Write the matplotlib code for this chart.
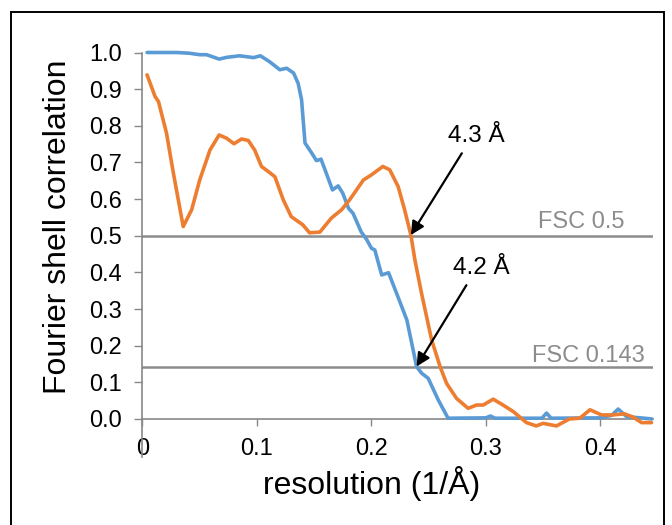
import matplotlib.pyplot as plt
import matplotlib.patches as mpatches
import matplotlib.lines as mlines

plt.rcParams['font.family'] = ['Liberation Sans', 'DejaVu Sans']

# FSC curves
blue_x = [0.004, 0.030, 0.041, 0.050, 0.056, 0.067, 0.074, 0.085, 0.097, 0.103,
          0.111, 0.120, 0.126, 0.132, 0.136, 0.139, 0.142, 0.148, 0.152, 0.156,
          0.159, 0.166, 0.171, 0.175, 0.180, 0.184, 0.191, 0.196, 0.200, 0.203,
          0.209, 0.215, 0.222, 0.231, 0.2395, 0.2438, 0.2496, 0.2584, 0.267, 0.300,
          0.304, 0.308, 0.335, 0.349, 0.353, 0.357, 0.400, 0.410, 0.4156, 0.423,
          0.435, 0.445]
blue_y = [1.000, 1.000, 0.998, 0.994, 0.994, 0.982, 0.987, 0.991, 0.986, 0.991,
          0.975, 0.953, 0.957, 0.944, 0.916, 0.871, 0.753, 0.725, 0.705, 0.709,
          0.684, 0.625, 0.636, 0.616, 0.575, 0.561, 0.511, 0.489, 0.466, 0.461,
          0.393, 0.399, 0.343, 0.270, 0.143, 0.125, 0.111, 0.052, 0.002, 0.003,
          0.008, 0.002, 0.002, 0.002, 0.016, 0.002, 0.003, 0.010, 0.027, 0.006,
          0.003, 0.000]

orange_x = [0.004, 0.011, 0.014, 0.021, 0.027, 0.0356, 0.043, 0.050, 0.059, 0.067,
            0.0735, 0.080, 0.0866, 0.0924, 0.098, 0.104, 0.110, 0.1157, 0.123, 0.130,
            0.140, 0.146, 0.155, 0.165, 0.174, 0.181, 0.193, 0.200, 0.210, 0.216,
            0.2234, 0.229, 0.2345, 0.238, 0.2438, 0.2526, 0.260, 0.2657, 0.2744, 0.2845,
            0.292, 0.2977, 0.3064, 0.315, 0.324, 0.3355, 0.344, 0.350, 0.3617, 0.373,
            0.382, 0.391, 0.401, 0.411, 0.421, 0.4287, 0.436, 0.4447]
orange_y = [0.939, 0.880, 0.866, 0.780, 0.671, 0.525, 0.571, 0.652, 0.734, 0.775,
            0.766, 0.751, 0.764, 0.760, 0.734, 0.689, 0.675, 0.661, 0.598, 0.552,
            0.530, 0.508, 0.510, 0.548, 0.571, 0.598, 0.652, 0.666, 0.689, 0.680,
            0.634, 0.571, 0.502, 0.434, 0.343, 0.216, 0.143, 0.097, 0.056, 0.029,
            0.038, 0.038, 0.054, 0.038, 0.020, -0.010, -0.019, -0.012, -0.019, 0.000,
            0.002, 0.025, 0.011, 0.011, 0.014, 0.005, -0.010, -0.010]

thresholds = [0.5, 0.143]
threshold_labels = ["FSC 0.5", "FSC 0.143"]
label_pos = [(0.421, 0.52), (0.439, 0.156)]

# annotations: text, text position, arrow tip
notes = [("4.3 Å", (0.292, 0.771), (0.2345, 0.502)),
         ("4.2 Å", (0.296, 0.411), (0.2395, 0.143))]

xticks = [0, 0.1, 0.2, 0.3, 0.4]
xticklabels = ["0", "0.1", "0.2", "0.3", "0.4"]
yticks = [0.0, 0.1, 0.2, 0.3, 0.4, 0.5, 0.6, 0.7, 0.8, 0.9, 1.0]

fig = plt.figure(figsize=(6.72, 5.25), dpi=100)
ax = fig.add_axes([0.212, 0.202, 0.759, 0.698])

axis_gray = "#888888"
for y in thresholds:
    ax.axhline(y, color="#8c8c8c", lw=1.8, zorder=1)
for txt, (tx, ty) in zip(threshold_labels, label_pos):
    ax.text(tx, ty, txt, ha="right", va="baseline", color="#8c8c8c", fontsize=17)

ax.plot(blue_x, blue_y, color="#5B9BD5", lw=2.6, solid_joinstyle="round",
        solid_capstyle="round", clip_on=False, zorder=3)
ax.plot(orange_x, orange_y, color="#ED7D31", lw=2.6, solid_joinstyle="round",
        solid_capstyle="round", clip_on=False, zorder=3)

for txt, xytext, xy in notes:
    ax.annotate("", xy=xy, xytext=(xytext[0] - 0.013, xytext[1] - 0.046),
                arrowprops=dict(arrowstyle="-|>", color="black", lw=1.6,
                                mutation_scale=20, shrinkA=0, shrinkB=0), zorder=4)
    ax.text(xytext[0], xytext[1], txt, ha="center", va="center", fontsize=17.5)

ax.set_xlim(0, 0.4456)
ax.set_ylim(0, 1.0)
ax.set_xticks(xticks)
ax.set_xticklabels(xticklabels)
ax.set_yticks(yticks)
ax.set_yticklabels([f"{v:.1f}" for v in yticks])
ax.tick_params(axis="y", direction="out", length=6, width=1, color=axis_gray,
               labelsize=17, pad=9)
ax.tick_params(axis="x", direction="out", length=5, width=1, color=axis_gray,
               labelsize=17, pad=9)
for s in ["top", "right"]:
    ax.spines[s].set_visible(False)
for s in ["left", "bottom"]:
    ax.spines[s].set_color(axis_gray)
    ax.spines[s].set_linewidth(1.2)

# left spine runs on a bit below the x axis
ax.add_line(mlines.Line2D([0, 0], [0, -0.104], transform=ax.transAxes,
                          color=axis_gray, lw=1.2, clip_on=False))

ax.set_ylabel("Fourier shell correlation", fontsize=23, labelpad=11)
ax.set_xlabel("resolution (1/Å)", fontsize=23, labelpad=4)
# axis titles sit a little off centre in the original
ax.xaxis.label.set_x(0.45)
ax.yaxis.label.set_y(0.524)

# black frame round the figure
fig.patches.append(mpatches.Rectangle((0.0164, -0.02), 0.972, 0.997,
                                      transform=fig.transFigure, fill=False,
                                      edgecolor="black", lw=1.4))

fig.savefig("out.png", dpi=100)
